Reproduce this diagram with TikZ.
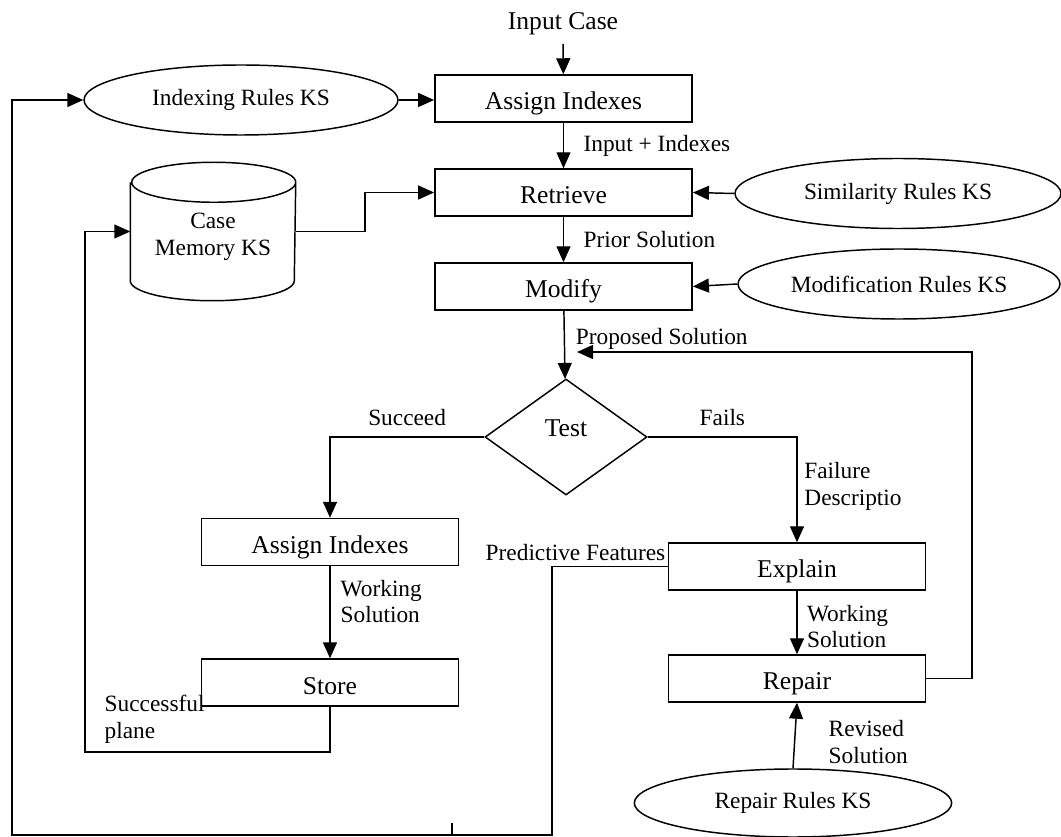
\documentclass[tikz,border=0pt]{standalone}
\usepackage{fontspec}
\setmainfont{Liberation Serif}
\usetikzlibrary{shapes,arrows,arrows.meta,positioning}

\begin{document}
\begin{tikzpicture}[x=0.75pt, y=-0.75pt, node distance=70.5pt, auto, line width=1.1pt]
\tikzstyle{block} = [rectangle, draw, minimum width=193pt, minimum height=35.25pt, inner sep=0pt, text height=17.25pt, text depth=0pt, font=\fontsize{19.2}{22}\selectfont]
\tikzstyle{ks} = [ellipse, draw, inner sep=0pt, minimum height=52.5pt, font=\fontsize{17.5}{20}\selectfont]
\tikzstyle{lbl} = [inner sep=0pt, align=left, font=\fontsize{17.5}{20}\selectfont]
\tikzstyle{line} = [draw, -{Triangle[length=12pt, width=10.5pt]}]

\useasboundingbox (0,0) rectangle (1061,837);

% main column
\node [inner sep=6pt, font=\fontsize{19.2}{22}\selectfont] (input) at (563,24) {Input Case};
\node [block] (assign) at (563.5,98.5) {Assign Indexes};
\node [block, below of=assign] (retrieve) {Retrieve};
\node [block, below of=retrieve] (modify) {Modify};
\node [diamond, draw, aspect=1.4, minimum width=121.5pt, minimum height=87pt, inner sep=0pt, text height=0pt, text depth=0pt, font=\fontsize{19.2}{22}\selectfont] (test) at (566,437) {Test};
\node [block] (assign2) at (330,542) {Assign Indexes};
\node [block, below of=assign2, node distance=105.4pt] (store) {Store};
\node [block] (explain) at (797,566.5) {Explain};
\node [block, below of=explain, node distance=84pt] (repair) {Repair};

% knowledge sources
\node [ks, minimum width=235.5pt] (idxks) at (241,100) {Indexing Rules KS};
\node [ks, minimum width=244.5pt] (simks) at (898,193.5) {Similarity Rules KS};
\node [ks, minimum width=241.5pt] (modks) at (899,284) {Modification Rules KS};
\node [ks, minimum width=238pt, minimum height=51pt] (repks) at (793,803) {Repair Rules KS};
\node [minimum width=123pt, minimum height=102.75pt, inner sep=0pt] (casemem) at (213,231.5) {};
\draw ([yshift=-15pt]casemem.north west) -- ([yshift=15pt]casemem.south west)
  arc[start angle=180, end angle=360, x radius=61.5pt, y radius=15pt]
  -- ([yshift=-15pt]casemem.north east)
  arc[start angle=0, end angle=180, x radius=61.5pt, y radius=15pt]
  arc[start angle=180, end angle=360, x radius=61.5pt, y radius=15pt];
\node [lbl, align=center] (casetxt) at (213,236.5) {Case\\Memory KS};

% loose labels and bends
\node [lbl, anchor=west] (succpl) at (104,719.5) {Successful\\plane};
\node [lbl, anchor=west] (predlbl) at (485,553) {Predictive Features};
\node [lbl, anchor=west] (revlbl) at (828,742) {Revised\\Solution};
\coordinate (cmbend) at (365,192.5);
\coordinate (succbend) at (85,752);
\coordinate (predbot) at (552,835);
\coordinate (outerbot) at (12,835);
\coordinate (loopcorner) at (972,352);
\coordinate (propin) at (577,352);

\path [line] (input) -- (assign);
\path [line] (idxks.east) -- (assign.west |- idxks.east);
\path [line] (assign) -- node [lbl, anchor=west, xshift=14.5pt] (inplbl) {Input + Indexes} (retrieve);
\path [line] (casemem.east) -| (cmbend) -- (retrieve.west);
\path [line] (simks.west) -- (retrieve.east);
\path [line] (retrieve) -- node [lbl, anchor=west, xshift=14.5pt] (priorlbl) {Prior Solution} (modify);
\path [line] (modks.west) -- (modify.east);
\path [line] (modify) -- node [lbl, anchor=west, xshift=8pt, yshift=4.5pt] (proplbl) {Proposed Solution} (test);
\path [line] (test.west) -| node [lbl, pos=0.25, above=8pt] (succlbl) {Succeed} (assign2.north);
\path [line] (test.east) -| node [lbl, pos=0.25, above=8pt] (failslbl) {Fails} node [lbl, pos=0.75, anchor=west, xshift=5pt, yshift=2.5pt] (faildesc) {Failure\\Descriptio} (explain.north);
\path [line] (assign2) -- node [lbl, anchor=west, xshift=7.5pt, yshift=8pt] (work1) {Working\\Solution} (store);
\path [line] (store.south) |- (succbend) |- (casemem.west);
\path [line] (explain) -- node [lbl, anchor=west, xshift=7pt, yshift=-3pt] (work2) {Working\\Solution} (repair);
\path [line] (repair.east) -| (loopcorner) -- (propin);
\path [line] (repks.north) -- (repair.south);
\path [line] (explain.west) -| (predbot) -- (outerbot) |- (idxks.west);
\draw (452,823) -- (452,835);
\end{tikzpicture}
\end{document}
